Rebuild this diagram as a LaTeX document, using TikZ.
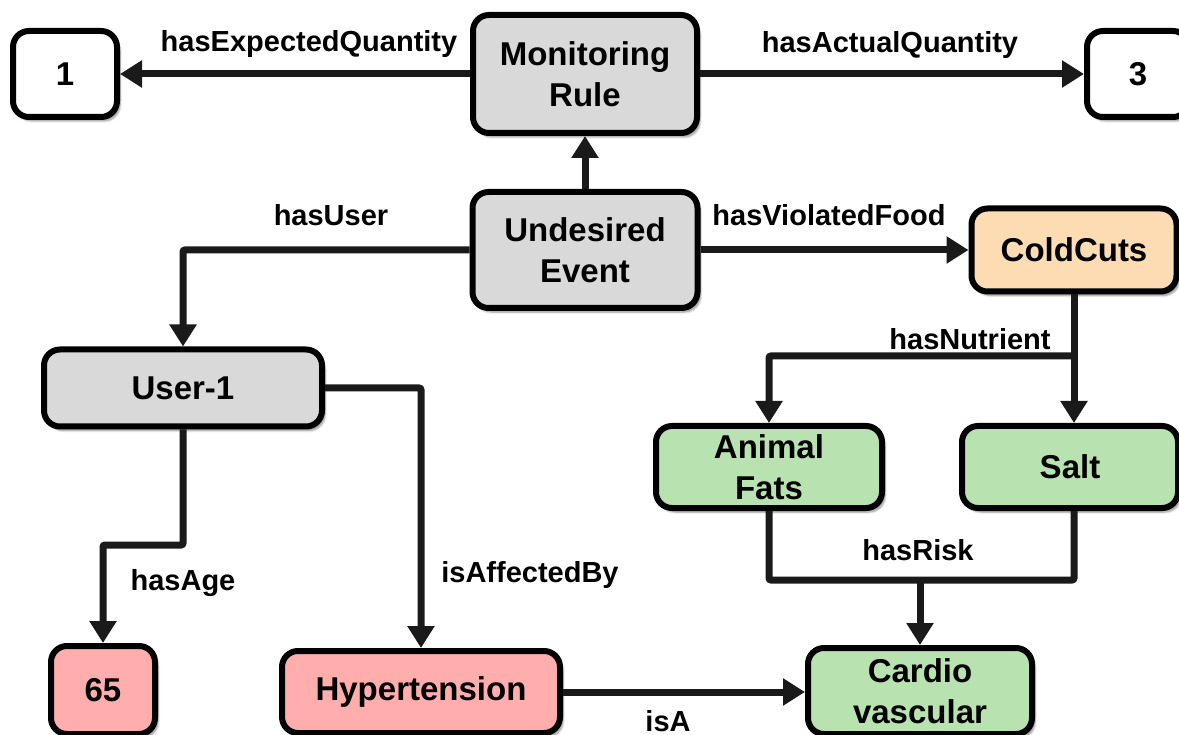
\documentclass[tikz,border=0pt]{standalone}
\usepackage{fontspec}
\setmainfont{Liberation Sans}
\usetikzlibrary{arrows.meta,shadows.blur}
\definecolor{grayf}{RGB}{217,217,217}
\definecolor{peachf}{RGB}{253,220,180}
\definecolor{greenf}{RGB}{184,226,176}
\definecolor{pinkf}{RGB}{255,173,173}
\definecolor{linec}{RGB}{26,26,26}
\begin{document}
\begin{tikzpicture}[x=1pt,y=-1pt,
  box/.style={draw=black, line width=6pt, rounded corners=16pt, align=center,
    font=\fontsize{33}{41}\selectfont\bfseries, inner sep=0pt,
    blur shadow={shadow xshift=3pt, shadow yshift=-4pt, shadow blur steps=6, shadow opacity=45}},
  conn/.style={line width=7pt, draw=linec, rounded corners=2pt},
  arr/.style={conn, -{Triangle[length=22pt,width=26pt]}},
  lab/.style={font=\fontsize{29}{34}\selectfont\bfseries, anchor=base, inner sep=0pt}]
\useasboundingbox (0,0) rectangle (1179,735);
% nodes
\node[box, fill=white, minimum width=104pt, minimum height=86pt] (one) at (65,74) {1};
\node[box, fill=grayf, minimum width=224pt, minimum height=118pt] (mon) at (585,74) {Monitoring\\Rule};
\node[box, fill=white, minimum width=102pt, minimum height=86pt] (three) at (1138,74) {3};
\node[box, fill=grayf, minimum width=225pt, minimum height=116pt] (und) at (585,250) {Undesired\\Event};
\node[box, fill=peachf, minimum width=205pt, minimum height=83pt] (cold) at (1074,250) {ColdCuts};
\node[box, fill=grayf, minimum width=278pt, minimum height=77pt] (user) at (183,388) {User-1};
\node[box, fill=greenf, minimum width=226pt, minimum height=82pt] (fats) at (769,467) {Animal\\Fats};
\node[box, fill=greenf, minimum width=216pt, minimum height=82pt] (salt) at (1070,467) {Salt};
\node[box, fill=pinkf, minimum width=104pt, minimum height=88pt] (s65) at (103,690) {65};
\node[box, fill=pinkf, minimum width=278pt, minimum height=82pt] (hyp) at (421,692) {Hypertension};
\node[box, fill=greenf, minimum width=224pt, minimum height=86pt] (cardio) at (920,691) {Cardio\\vascular};
% helper coordinates
\coordinate (nj) at (1074,356);
\coordinate (ag) at (0,545);
\coordinate (rk) at (0,580);
% connectors
\draw[arr] (mon.west) -- (one.east);
\draw[arr] (mon.east) -- (three.west);
\draw[arr] (und.north) -- (mon.south);
\draw[arr] (und.west) -| (user.north);
\draw[arr] (und.east) -- (cold.west);
\draw[arr] (cold.south) -- (cold.south |- salt.north);
\draw[arr] (nj) -| (fats.north);
\draw[arr] (user.south) -- (user.south |- ag) -| (s65.north);
\draw[arr] (user.east) -| (hyp.north);
\draw[arr] (hyp.east) -- (cardio.west |- hyp.east);
\draw[conn] (fats.south) |- (cold.south |- rk) -- (cold.south |- salt.south);
\draw[arr] (cardio.north |- rk) -- (cardio.north);
% labels
\node[lab] (lexp) at (309,52) {hasExpectedQuantity};
\node[lab] (lact) at (890,53) {hasActualQuantity};
\node[lab] (luser) at (331,226) {hasUser};
\node[lab] (lviol) at (829,226) {hasViolatedFood};
\node[lab] (lnut) at (970,350) {hasNutrient};
\node[lab] (lage) at (183,590) {hasAge};
\node[lab] (laff) at (530,582) {isAffectedBy};
\node[lab] (lrisk) at (918,560) {hasRisk};
\node[lab] (lisa) at (668,731) {isA};
\end{tikzpicture}
\end{document}
